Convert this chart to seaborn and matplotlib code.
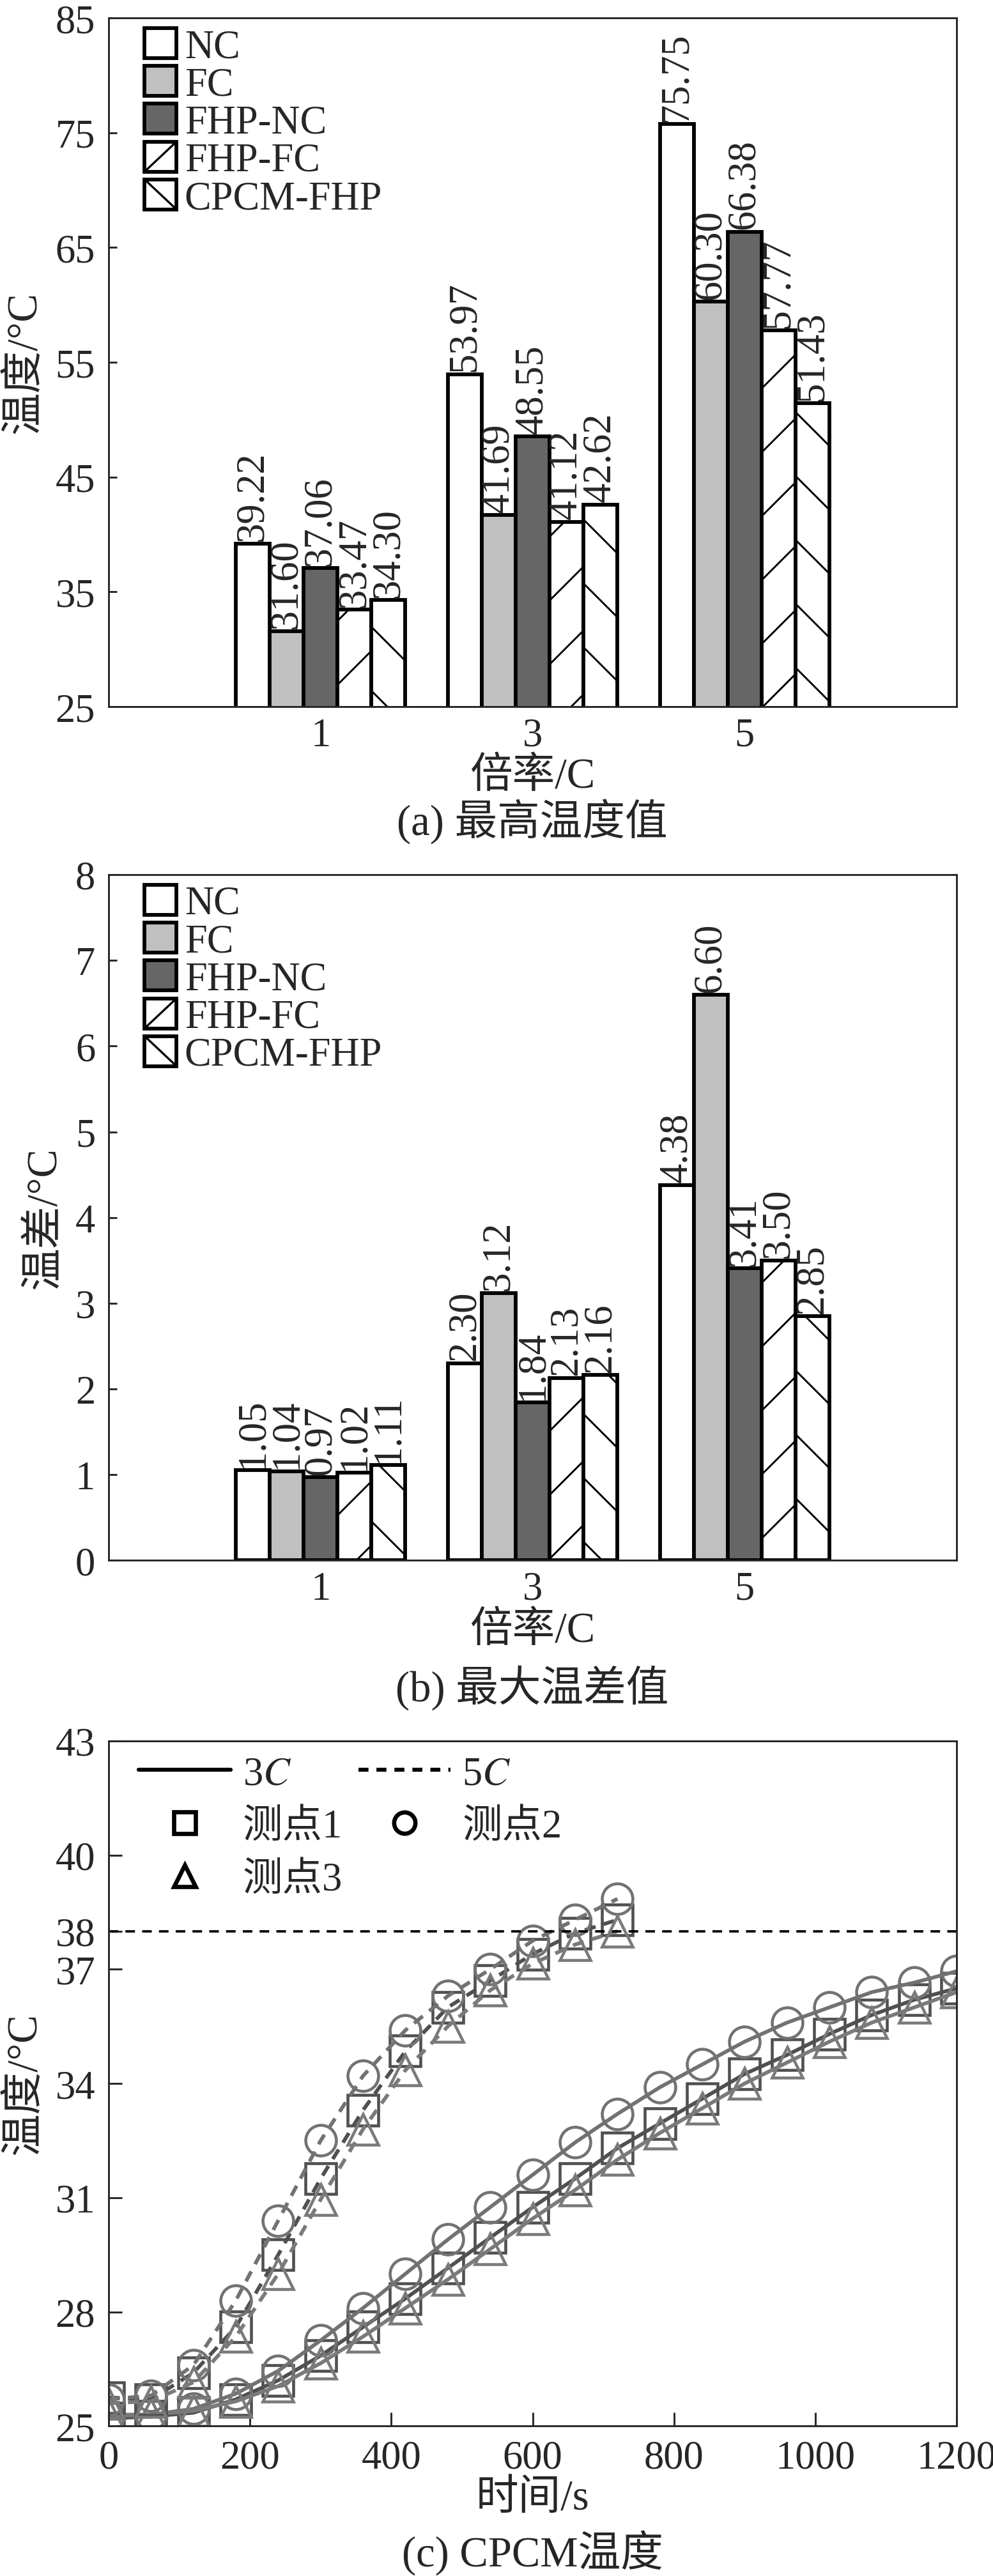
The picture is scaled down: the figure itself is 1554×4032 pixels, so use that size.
import numpy as np
import pandas as pd
import matplotlib
matplotlib.use("Agg")
import matplotlib.pyplot as plt
from matplotlib.lines import Line2D
from matplotlib.patches import Rectangle
from matplotlib.legend_handler import HandlerBase
import seaborn as sns

# ---- data: bar panels ----
rates = ['1', '3', '5']
methods = ['NC', 'FC', 'FHP-NC', 'FHP-FC', 'CPCM-FHP']

tmax_nc = [39.22, 53.97, 75.75]
tmax_fc = [31.60, 41.69, 60.30]
tmax_fhp_nc = [37.06, 48.55, 66.38]
tmax_fhp_fc = [33.47, 41.12, 57.77]
tmax_cpcm = [34.30, 42.62, 51.43]

dt_nc = [1.05, 2.30, 4.38]
dt_fc = [1.04, 3.12, 6.60]
dt_fhp_nc = [0.97, 1.84, 3.41]
dt_fhp_fc = [1.02, 2.13, 3.50]
dt_cpcm = [1.11, 2.16, 2.85]

# ---- data: CPCM temperature curves ----
time_3c = [0, 60, 120, 180, 240, 300, 360, 420, 480, 540, 600,
           660, 720, 780, 840, 900, 960, 1020, 1080, 1140, 1200]
p1_3c = [25.20, 25.25, 25.35, 25.70, 26.20, 26.85, 27.60, 28.35, 29.15, 29.95, 30.75,
         31.50, 32.30, 32.95, 33.60, 34.25, 34.75, 35.30, 35.80, 36.20, 36.50]
p2_3c = [25.25, 25.30, 25.45, 25.85, 26.45, 27.25, 28.10, 29.00, 29.90, 30.75, 31.60,
         32.45, 33.20, 33.90, 34.50, 35.10, 35.60, 36.00, 36.40, 36.65, 36.95]
p3_3c = [25.30, 25.30, 25.40, 25.65, 26.05, 26.65, 27.35, 28.10, 28.85, 29.65, 30.45,
         31.20, 32.00, 32.70, 33.35, 34.00, 34.55, 35.10, 35.60, 36.00, 36.40]

time_5c = [0, 60, 120, 180, 240, 300, 360, 420, 480, 540, 600, 660, 720]
p1_5c = [25.75, 25.70, 26.40, 27.60, 29.50, 31.50, 33.30, 34.85, 36.00, 36.70, 37.40, 37.95, 38.30]
p2_5c = [25.70, 25.80, 26.60, 28.30, 30.40, 32.50, 34.20, 35.40, 36.30, 37.00, 37.75, 38.30, 38.85]
p3_5c = [25.60, 25.65, 26.15, 27.35, 29.00, 30.95, 32.80, 34.35, 35.50, 36.45, 37.15, 37.65, 38.00]

limit_temp = 38

sns.set_style('ticks')
plt.rcParams['font.family'] = ['Liberation Serif', 'Noto Sans CJK SC']
plt.rcParams['mathtext.fontset'] = 'stix'
plt.rcParams['hatch.linewidth'] = 0.7
plt.rcParams['axes.linewidth'] = 0.7

FS = 15      # tick labels, legends, bar values
FS_LAB = 16  # axis labels and captions
bar_colors = ['white', '#c0c0c0', '#666666', 'white', 'white']
bar_hatches = ['', '', '', '/', '\\']


class BoxHandler(HandlerBase):
    """Legend box with one corner-to-corner stroke, like the printed key."""

    def __init__(self, diag=''):
        super().__init__()
        self.diag = diag

    def create_artists(self, legend, orig_handle, xdescent, ydescent,
                       width, height, fontsize, trans):
        x0, y0 = -xdescent, -ydescent
        x1, y1 = x0 + width, y0 + height
        box = Rectangle((x0, y0), width, height, facecolor=orig_handle.get_facecolor(),
                        edgecolor='black', linewidth=1.4, transform=trans)
        arts = [box]
        if self.diag == '/':
            arts.append(Line2D([x0, x1], [y0, y1], color='black', linewidth=0.8, transform=trans))
        elif self.diag == '\\':
            arts.append(Line2D([x0, x1], [y1, y0], color='black', linewidth=0.8, transform=trans))
        return arts


fig = plt.figure(figsize=(5.18, 13.443), dpi=300)
ax_a = fig.add_axes([0.1094, 0.7255, 0.854, 0.2673])
ax_b = fig.add_axes([0.1094, 0.3942, 0.854, 0.2661])
ax_c = fig.add_axes([0.1094, 0.0582, 0.854, 0.2659])


def bar_panel(ax, series, ylim, yticks, ylabel):
    df = pd.DataFrame({
        'rate': rates * len(methods),
        'value': sum(series, []),
        'method': [m for m in methods for _ in rates],
    })
    sns.barplot(data=df, x='rate', y='value', hue='method', hue_order=methods,
                palette=bar_colors, edgecolor='black', linewidth=1.4,
                width=0.8, errorbar=None, legend=False, ax=ax)
    for cont, h in zip(ax.containers, bar_hatches):
        for p in cont.patches:
            p.set_hatch(h)
            p.set_edgecolor('black')
        ax.bar_label(cont, fmt='%.2f', rotation=90, padding=1.0, fontsize=FS)
    ax.set_xlim(-1, 3)
    ax.set_ylim(*ylim)
    ax.set_yticks(yticks)
    ax.tick_params(axis='y', direction='in', length=3, width=0.7, labelsize=FS, pad=5)
    ax.tick_params(axis='x', length=0, labelsize=FS, pad=4)
    ax.set_xlabel('倍率/C', fontsize=FS_LAB, labelpad=1)
    ax.set_ylabel(ylabel, fontsize=FS_LAB, labelpad=4)
    handles = [c.patches[0] for c in ax.containers]
    hmap = {hd: BoxHandler(h) for hd, h in zip(handles, bar_hatches)}
    ax.legend(handles, methods, handler_map=hmap, loc='upper left',
              bbox_to_anchor=(0.033, 0.997), frameon=False, fontsize=FS,
              handlelength=0.8, handleheight=0.78, handletextpad=0.2,
              labelspacing=0.0, borderaxespad=0.0, borderpad=0.2)


bar_panel(ax_a, [tmax_nc, tmax_fc, tmax_fhp_nc, tmax_fhp_fc, tmax_cpcm],
          (25, 85), [25, 35, 45, 55, 65, 75, 85], '温度/°C')
bar_panel(ax_b, [dt_nc, dt_fc, dt_fhp_nc, dt_fhp_fc, dt_cpcm],
          (0, 8), list(range(0, 9)), '温差/°C')

# ---- panel (c) ----
curve_style = dict(linewidth=1.4, markersize=11.5, markerfacecolor='none',
                   markeredgewidth=1.1)
curves = [
    (time_3c, p1_3c, 's', '#505050', '-'),
    (time_3c, p2_3c, 'o', '#727272', '-'),
    (time_3c, p3_3c, '^', '#7a7a7a', '-'),
    (time_5c, p1_5c, 's', '#505050', '--'),
    (time_5c, p2_5c, 'o', '#727272', '--'),
    (time_5c, p3_5c, '^', '#7a7a7a', '--'),
]
for t, y, mk, col, ls in curves:
    sns.lineplot(x=t, y=y, marker=mk, color=col, markeredgecolor=col,
                 linestyle=ls, ax=ax_c, **curve_style)
for line in ax_c.lines:
    if line.get_linestyle() == '--':
        line.set_dashes((3.0, 2.2))

ax_c.axhline(limit_temp, color='black', linewidth=0.9, dashes=(4, 3))
ax_c.set_xlim(0, 1200)
ax_c.set_ylim(25, 43)
ax_c.set_xticks([0, 200, 400, 600, 800, 1000, 1200])
ax_c.set_yticks([25, 28, 31, 34, 37, 38, 40, 43])
ax_c.tick_params(direction='in', length=5, width=0.7, labelsize=FS, pad=5)
ax_c.set_xlabel('时间/s', fontsize=FS_LAB, labelpad=1)
ax_c.set_ylabel('温度/°C', fontsize=FS_LAB, labelpad=4)

mk_style = dict(linestyle='none', markersize=8, markerfacecolor='none',
                markeredgecolor='black', markeredgewidth=1.6, color='black')
leg_handles = [
    Line2D([], [], color='black', linewidth=1.5),
    Line2D([], [], marker='s', **mk_style),
    Line2D([], [], marker='^', **mk_style),
    Line2D([], [], color='black', linewidth=1.5, dashes=(2.5, 2.0)),
    Line2D([], [], marker='o', **mk_style),
]
leg_labels = ['3$\\mathit{C}$', '测点1', '测点3', '5$\\mathit{C}$', '测点2']
ax_c.legend(leg_handles, leg_labels, loc='upper left', bbox_to_anchor=(0.026, 0.99),
            ncol=2, frameon=False, fontsize=FS, handlelength=2.3,
            handletextpad=0.3, columnspacing=0.4, labelspacing=0.4,
            borderaxespad=0.0, borderpad=0.2)

fig.text(0.536, 0.681, '(a) 最高温度值', ha='center', va='center', fontsize=FS_LAB)
fig.text(0.536, 0.345, '(b) 最大温差值', ha='center', va='center', fontsize=FS_LAB)
fig.text(0.536, 0.009, '(c) CPCM温度', ha='center', va='center', fontsize=FS_LAB)

fig.savefig('out.png', dpi=300)
